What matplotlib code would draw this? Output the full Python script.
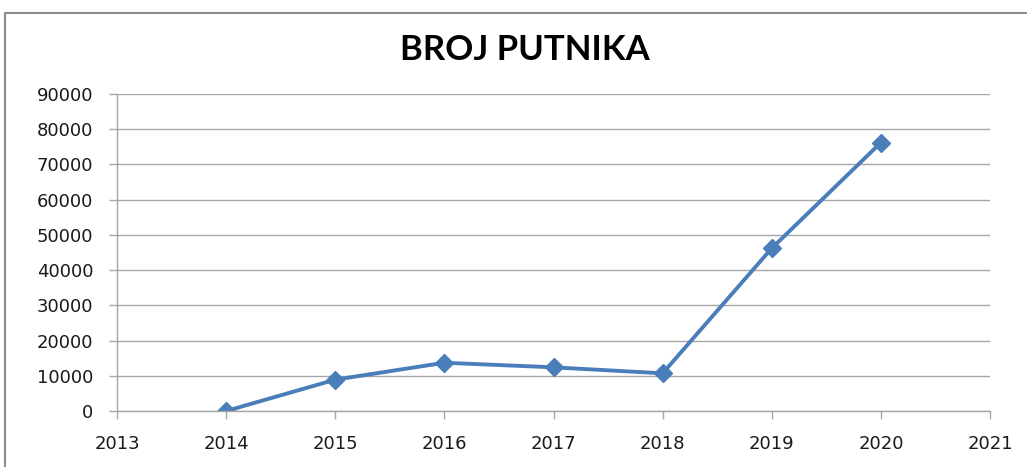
import matplotlib
matplotlib.use("Agg")
import matplotlib.pyplot as plt
from matplotlib.patches import Rectangle

# broj putnika po godinama
years = [2014, 2015, 2016, 2017, 2018, 2019, 2020]
passengers = [0, 8900, 13700, 12400, 10700, 46200, 76200]

xticks = list(range(2013, 2022))
yticks = list(range(0, 90001, 10000))

fig = plt.figure(figsize=(10.27, 4.67), dpi=100)
ax = fig.add_axes([117 / 1027, 1 - 411 / 467, (990 - 117) / 1027, (411 - 94) / 467])

# gray frame around the chart (cut off on right/bottom like in the screenshot)
fig.patches.append(Rectangle((5 / 1027, -0.1), 1.2, 1.1 - 13 / 467,
                             transform=fig.transFigure, fill=False,
                             edgecolor="#8c8c8c", linewidth=1.5))

ax.plot(years, passengers, color="#4A7EBB", linewidth=2.8,
        marker="D", markersize=9, markerfacecolor="#4A7EBB", markeredgecolor="#4A7EBB")

ax.set_xlim(2013, 2021)
ax.set_ylim(0, 90000)
ax.set_xticks(xticks)
ax.set_yticks(yticks)
ax.set_xticklabels([str(x) for x in xticks])
ax.set_yticklabels([str(y) for y in yticks])

ax.grid(axis="y", color="#a6a6a6", linewidth=1)
ax.set_axisbelow(True)
for s in ["top", "right"]:
    ax.spines[s].set_visible(False)
for s in ["left", "bottom"]:
    ax.spines[s].set_color("#a6a6a6")
    ax.spines[s].set_linewidth(1)

ax.tick_params(axis="both", colors="#a6a6a6", labelcolor="#1a1a1a",
               length=6, width=1)
ax.tick_params(axis="x", pad=11)
ax.tick_params(axis="y", pad=11)
for lbl in ax.get_xticklabels() + ax.get_yticklabels():
    lbl.set_family("DejaVu Sans")
    lbl.set_fontsize(13)

fig.text(525 / 1027, 1 - 50 / 467, "BROJ PUTNIKA", ha="center", va="center",
         fontsize=25, fontweight="bold",
         family=["Lato", "DejaVu Sans"])

fig.savefig("out.png", dpi=100)
